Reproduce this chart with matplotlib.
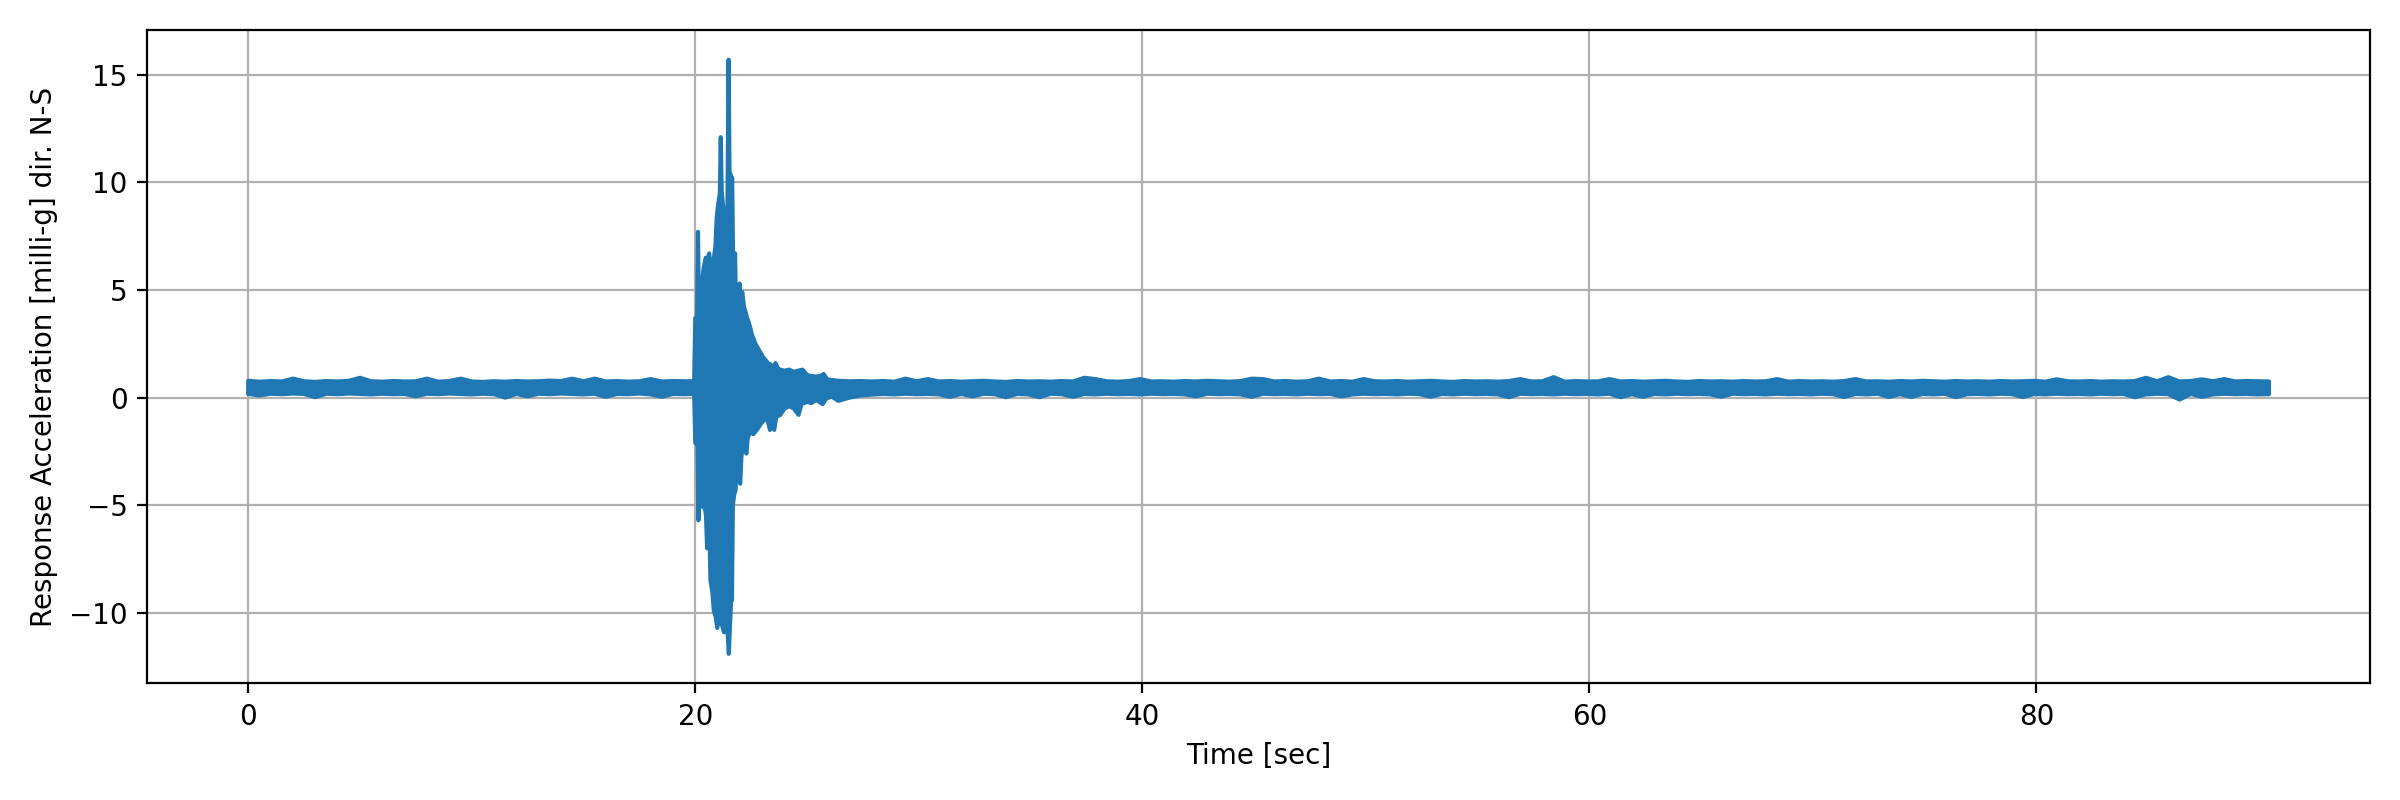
import numpy as np
import matplotlib
matplotlib.use("Agg")
import matplotlib.pyplot as plt

# ---- data read from the reference (envelope of the recorded trace) ----
# quiet record before the event, sampled every 0.5 s from 0 to 19.5 s
t_pre = np.arange(0.0, 19.75, 0.5)
upper_pre = [0.78, 0.74, 0.77, 0.75, 0.88, 0.76, 0.73, 0.77, 0.75, 0.78,
             0.92, 0.76, 0.74, 0.77, 0.75, 0.76, 0.88, 0.74, 0.77, 0.88,
             0.75, 0.73, 0.76, 0.74, 0.77, 0.75, 0.76, 0.79, 0.77, 0.88,
             0.76, 0.88, 0.75, 0.77, 0.74, 0.76, 0.86, 0.75, 0.77, 0.76]
lower_pre = [0.17, 0.10, 0.18, 0.16, 0.19, 0.17, 0.02, 0.18, 0.16, 0.19,
             0.17, 0.15, 0.18, 0.16, 0.17, 0.06, 0.18, 0.16, 0.19, 0.17,
             0.15, 0.18, 0.16, 0.00, 0.17, 0.06, 0.18, 0.16, 0.19, 0.17,
             0.15, 0.18, 0.04, 0.17, 0.16, 0.19, 0.15, 0.04, 0.17, 0.16]

# strong-motion part (upper and lower peaks)
t_burst_up = [19.95, 20.0, 20.08, 20.12, 20.16, 20.22, 20.30, 20.37, 20.47, 20.55,
              20.62, 20.68, 20.74, 20.82, 20.90, 20.96, 21.04, 21.10, 21.14, 21.18,
              21.26, 21.35, 21.40, 21.44, 21.49, 21.53, 21.60, 21.65, 21.70, 21.78,
              21.82, 21.88, 21.94, 21.98, 22.04, 22.10, 22.18, 22.24, 22.32, 22.39,
              22.47, 22.54, 22.62, 22.69, 22.80, 22.91, 23.02, 23.14, 23.25, 23.36,
              23.48, 23.59, 23.70, 23.80, 24.0, 24.2, 24.4, 24.6, 24.8, 25.0,
              25.2, 25.4, 25.6, 25.74, 25.9, 26.1]
upper_burst = [0.76, 3.7, 3.7, 7.7, 4.2, 4.3, 5.3, 6.0, 6.5, 6.4,
               6.7, 6.2, 6.2, 6.4, 7.0, 8.4, 9.1, 9.5, 12.1, 9.6,
               8.7, 8.4, 8.0, 9.0, 15.7, 10.5, 10.3, 10.2, 5.5, 6.7,
               4.0, 3.7, 4.6, 5.3, 4.3, 4.9, 4.2, 4.0, 3.7, 3.5,
               3.2, 2.9, 2.7, 2.5, 2.3, 2.1, 1.9, 1.75, 1.6, 1.55,
               1.4, 1.6, 1.35, 1.3, 1.25, 1.3, 1.2, 1.25, 1.3, 1.05,
               1.0, 0.98, 1.0, 1.1, 0.85, 0.82]
t_burst_lo = [19.95, 20.0, 20.1, 20.14, 20.18, 20.24, 20.30, 20.35, 20.42, 20.48,
              20.53, 20.58, 20.64, 20.68, 20.76, 20.83, 20.92, 20.98, 21.05, 21.10,
              21.18, 21.28, 21.38, 21.45, 21.50, 21.55, 21.60, 21.64, 21.68, 21.74,
              21.80, 21.84, 21.92, 21.98, 22.01, 22.06, 22.12, 22.20, 22.29, 22.34,
              22.45, 22.60, 22.75, 22.95, 23.10, 23.25, 23.34, 23.42, 23.53, 23.62,
              23.80, 24.0, 24.2, 24.4, 24.62, 24.75, 25.0, 25.2, 25.4, 25.7,
              25.85, 26.1]
lower_burst = [0.17, -2.1, -2.2, -5.7, -2.5, -4.8, -4.0, -5.1, -5.0, -5.5,
               -7.0, -5.6, -6.5, -8.5, -9.0, -9.9, -10.2, -10.7, -10.2, -10.5,
               -10.5, -10.9, -10.8, -11.0, -11.9, -10.6, -9.5, -9.4, -5.0, -4.5,
               -4.3, -3.1, -3.4, -3.9, -4.0, -2.8, -2.2, -2.4, -2.6, -1.9,
               -1.6, -1.7, -1.5, -1.2, -1.0, -1.1, -1.5, -1.0, -1.5, -0.9,
               -0.8, -0.5, -0.4, -0.5, -0.8, -0.3, -0.2, -0.25, -0.1, -0.3,
               -0.05, 0.05]

# quiet record after the event, sampled every 0.5 s from 26.4 to 90.4 s
t_post = np.arange(26.4, 90.45, 0.5)
upper_post = [0.78, 0.76, 0.77, 0.75, 0.77, 0.74, 0.88, 0.76, 0.86, 0.75,
              0.77, 0.74, 0.76, 0.78, 0.75, 0.73, 0.77, 0.75, 0.76, 0.74,
              0.77, 0.75, 0.92, 0.86, 0.76, 0.74, 0.77, 0.86, 0.75, 0.76,
              0.74, 0.77, 0.75, 0.78, 0.76, 0.74, 0.77, 0.88, 0.86, 0.75,
              0.77, 0.74, 0.76, 0.88, 0.75, 0.77, 0.74, 0.86, 0.76, 0.75,
              0.77, 0.74, 0.76, 0.78, 0.75, 0.73, 0.77, 0.75, 0.76, 0.74,
              0.77, 0.86, 0.75, 0.76, 0.95, 0.74, 0.77, 0.75, 0.76, 0.86,
              0.75, 0.77, 0.74, 0.76, 0.78, 0.75, 0.73, 0.77, 0.75, 0.76,
              0.74, 0.77, 0.75, 0.76, 0.86, 0.74, 0.77, 0.75, 0.76, 0.74,
              0.77, 0.86, 0.75, 0.76, 0.74, 0.77, 0.75, 0.78, 0.76, 0.74,
              0.77, 0.75, 0.76, 0.74, 0.77, 0.75, 0.76, 0.78, 0.74, 0.85,
              0.76, 0.75, 0.77, 0.74, 0.76, 0.75, 0.77, 0.92, 0.76, 0.95,
              0.75, 0.77, 0.85, 0.76, 0.86, 0.75, 0.77, 0.76, 0.75]
lower_post = [-0.15, 0.00, 0.10, 0.14, 0.17, 0.15, 0.18, 0.16, 0.17, 0.15,
              0.04, 0.17, 0.06, 0.18, 0.16, 0.02, 0.17, 0.15, 0.02, 0.18,
              0.16, 0.04, 0.17, 0.15, 0.18, 0.16, 0.17, 0.15, 0.18, 0.16,
              0.17, 0.15, 0.06, 0.18, 0.16, 0.17, 0.15, 0.04, 0.18, 0.16,
              0.17, 0.15, 0.18, 0.16, 0.17, 0.06, 0.15, 0.18, 0.16, 0.17,
              0.15, 0.18, 0.16, 0.04, 0.17, 0.15, 0.18, 0.16, 0.17, 0.15,
              0.02, 0.18, 0.16, 0.17, 0.15, 0.18, 0.16, 0.17, 0.15, 0.18,
              0.02, 0.16, 0.04, 0.17, 0.15, 0.18, 0.16, 0.17, 0.15, 0.04,
              0.18, 0.16, 0.17, 0.15, 0.18, 0.16, 0.17, 0.15, 0.18, 0.16,
              0.03, 0.17, 0.15, 0.18, 0.03, 0.16, 0.03, 0.17, 0.15, 0.18,
              0.02, 0.16, 0.17, 0.15, 0.18, 0.16, 0.03, 0.17, 0.15, 0.18,
              0.16, 0.17, 0.15, 0.18, 0.16, 0.17, 0.02, 0.15, 0.18, 0.16,
              -0.09, 0.17, 0.04, 0.15, 0.18, 0.16, 0.17, 0.15, 0.16]

x_label = "Time [sec]"
y_label = "Response Acceleration [milli-g] dir. N-S"

# ---- assemble envelope polygon ----
t_up = np.concatenate([t_pre, t_burst_up, t_post])
v_up = np.concatenate([upper_pre, upper_burst, upper_post])
t_lo = np.concatenate([t_pre, t_burst_lo, t_post])
v_lo = np.concatenate([lower_pre, lower_burst, lower_post])

poly_t = np.concatenate([t_up, t_lo[::-1]])
poly_v = np.concatenate([v_up, v_lo[::-1]])

fig, ax = plt.subplots(figsize=(12, 4), dpi=200)
ax.fill(poly_t, poly_v, facecolor="#1f77b4", edgecolor="#1f77b4",
        linewidth=1.5, joinstyle="round", zorder=2)
ax.grid(True)
ax.set_axisbelow(True)
ax.set_xlabel(x_label)
ax.set_ylabel(y_label)
ax.margins(0.05)
fig.tight_layout()
fig.savefig("out.png", dpi=200)
